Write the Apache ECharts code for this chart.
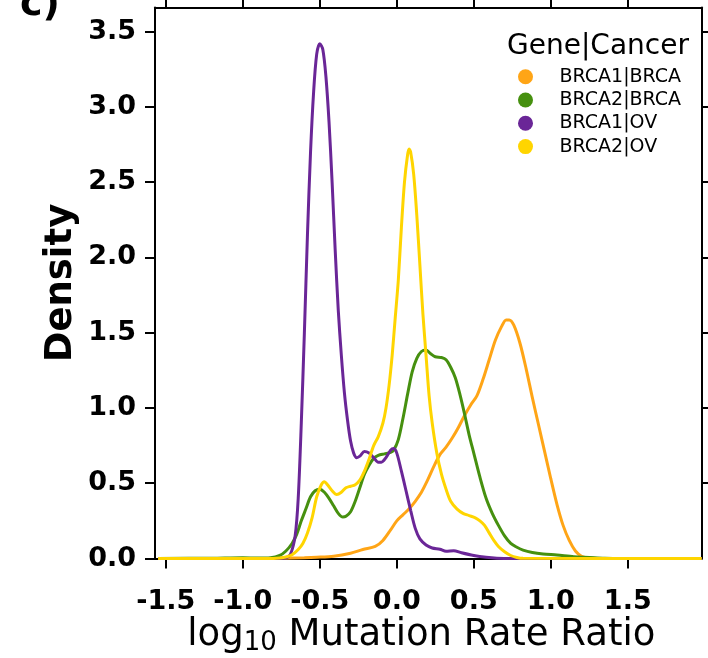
<!DOCTYPE html>
<html><head><meta charset="utf-8">
<script src="https://cdn.jsdelivr.net/npm/echarts@6/dist/echarts.min.js"></script>
<style>html,body{margin:0;padding:0;background:#fff}#c{width:708px;height:658px}</style>
</head><body><div id="c"></div>
<script>
// ---- data ----
const seriesNames = ['BRCA1|BRCA', 'BRCA2|BRCA', 'BRCA1|OV', 'BRCA2|OV'];
const seriesColors = ['#FFA516', '#46900F', '#6A2697', '#FFD500'];

const brca1BrcaX = [-1.55,-0.85,-0.75,-0.6,-0.52,-0.41,-0.30,-0.22,-0.14,-0.09,-0.04,0.00,0.04,0.08,0.12,0.16,0.20,0.24,0.28,0.32,0.36,0.40,0.44,0.48,0.52,0.56,0.60,0.64,0.68,0.71,0.73,0.76,0.80,0.84,0.88,0.92,0.96,1.00,1.04,1.08,1.12,1.16,1.20,1.25,1.35,1.98];
const brca1BrcaY = [0,0,0.002,0.005,0.008,0.015,0.035,0.06,0.08,0.12,0.19,0.25,0.29,0.33,0.38,0.44,0.52,0.61,0.69,0.74,0.80,0.87,0.95,1.02,1.08,1.19,1.32,1.45,1.54,1.585,1.585,1.55,1.43,1.26,1.07,0.89,0.71,0.53,0.36,0.22,0.12,0.05,0.015,0.004,0,0];

const brca2BrcaX = [-1.55,-1.2,-1.0,-0.9,-0.82,-0.76,-0.72,-0.68,-0.65,-0.62,-0.59,-0.56,-0.53,-0.50,-0.47,-0.44,-0.41,-0.38,-0.35,-0.33,-0.30,-0.27,-0.24,-0.21,-0.18,-0.15,-0.12,-0.08,-0.04,-0.02,0.01,0.04,0.07,0.10,0.13,0.16,0.19,0.22,0.25,0.29,0.32,0.35,0.38,0.41,0.44,0.47,0.50,0.54,0.58,0.62,0.66,0.70,0.74,0.78,0.82,0.88,0.95,1.04,1.15,1.25,1.35,1.45,1.98];
const brca2BrcaY = [0,0.002,0.005,0.003,0.005,0.02,0.05,0.10,0.16,0.25,0.33,0.41,0.45,0.46,0.44,0.40,0.35,0.30,0.275,0.28,0.31,0.38,0.47,0.56,0.62,0.665,0.685,0.695,0.705,0.72,0.79,0.93,1.09,1.24,1.33,1.375,1.385,1.36,1.34,1.335,1.32,1.27,1.20,1.09,0.96,0.82,0.70,0.54,0.40,0.30,0.22,0.15,0.10,0.075,0.056,0.040,0.030,0.023,0.012,0.007,0.002,0,0];

const brca1OvX = [-1.55,-1.0,-0.80,-0.72,-0.69,-0.66,-0.64,-0.62,-0.60,-0.58,-0.56,-0.54,-0.52,-0.50,-0.48,-0.46,-0.44,-0.42,-0.40,-0.38,-0.36,-0.34,-0.32,-0.30,-0.28,-0.26,-0.24,-0.21,-0.18,-0.15,-0.12,-0.10,-0.07,-0.04,-0.02,0.00,0.03,0.06,0.09,0.12,0.15,0.19,0.23,0.28,0.32,0.37,0.42,0.50,0.58,0.65,0.75,1.98];
const brca1OvY = [0,0,0,0.005,0.03,0.15,0.40,0.90,1.50,2.15,2.70,3.10,3.35,3.42,3.38,3.20,2.90,2.50,2.05,1.65,1.35,1.10,0.92,0.78,0.70,0.67,0.68,0.71,0.70,0.67,0.64,0.64,0.67,0.72,0.73,0.70,0.58,0.45,0.32,0.20,0.13,0.09,0.07,0.062,0.048,0.052,0.038,0.02,0.008,0.002,0,0];

const brca2OvX = [-1.55,-0.8,-0.76,-0.72,-0.68,-0.64,-0.61,-0.58,-0.55,-0.52,-0.49,-0.47,-0.45,-0.42,-0.39,-0.36,-0.33,-0.30,-0.27,-0.24,-0.21,-0.18,-0.15,-0.12,-0.09,-0.07,-0.05,-0.03,-0.01,0.01,0.03,0.05,0.07,0.08,0.09,0.11,0.13,0.15,0.17,0.19,0.21,0.23,0.26,0.29,0.32,0.35,0.39,0.43,0.47,0.51,0.54,0.57,0.60,0.63,0.66,0.70,0.74,0.78,0.82,1.98];
const brca2OvY = [0,0,0.003,0.01,0.025,0.06,0.10,0.17,0.27,0.41,0.49,0.51,0.49,0.45,0.425,0.44,0.47,0.48,0.49,0.52,0.58,0.66,0.75,0.81,0.90,1.00,1.15,1.35,1.60,1.85,2.20,2.50,2.68,2.72,2.70,2.55,2.28,1.95,1.62,1.35,1.08,0.90,0.70,0.56,0.46,0.38,0.33,0.30,0.285,0.27,0.25,0.22,0.17,0.12,0.08,0.045,0.02,0.007,0.001,0];

const xTickValues = [-1.5, -1.0, -0.5, 0.0, 0.5, 1.0, 1.5];
const yTickValues = [0.0, 0.5, 1.0, 1.5, 2.0, 2.5, 3.0, 3.5];
const xRange = [-1.57, 1.98];
const yRange = [0, 3.66];

// ---- build ----
const zip = (xs, ys) => xs.map((x, i) => [x, ys[i]]);
const curves = [zip(brca1BrcaX, brca1BrcaY), zip(brca2BrcaX, brca2BrcaY), zip(brca1OvX, brca1OvY), zip(brca2OvX, brca2OvY)];

const FONT = 'DejaVu Sans';
const tickStyle = { show: true, inside: false, length: 10, lineStyle: { color: '#000', width: 2 } };
const lineStyleAxis = { show: true, onZero: false, lineStyle: { color: '#000', width: 2 } };
const fmt = v => v.toFixed(1);

const chart = echarts.init(document.getElementById('c'), null, { renderer: 'canvas' });
chart.setOption({
  backgroundColor: '#fff',
  animation: false,
  grid: { left: 155, right: 6.3, top: 7.5, bottom: 99.5, containLabel: false, outerBoundsMode: 'none' },
  legend: {
    left: 518, top: 66.7, orient: 'vertical', padding: 0,
    icon: 'circle', itemWidth: 58, itemHeight: 15, itemGap: 3.3,
    data: seriesNames,
    textStyle: { fontFamily: FONT, fontSize: 19, color: '#000', lineHeight: 20 }
  },
  graphic: [
    { type: 'text', left: 507, top: 33, style: { text: 'Gene|Cancer', font: 'normal 28px "DejaVu Sans"', fill: '#000' } },
    { type: 'text', x: 20, y: 5, style: { text: 'c)', font: 'bold 38px "DejaVu Sans"', fill: '#000', verticalAlign: 'middle' } }
  ],
  xAxis: [
    {
      type: 'value', min: xRange[0], max: xRange[1], position: 'bottom',
      axisLine: lineStyleAxis,
      axisTick: Object.assign({ customValues: xTickValues }, tickStyle),
      axisLabel: { customValues: xTickValues, formatter: fmt, margin: 30, fontFamily: FONT, fontWeight: 'bold', fontSize: 27, color: '#000' },
      splitLine: { show: false },
      name: '{a|log}{s|10}{a| Mutation Rate Ratio}', nameLocation: 'middle', nameGap: 55, nameMoveOverlap: false,
      nameTextStyle: {
        padding: [0, 14, 0, 0],
        rich: {
          a: { fontFamily: FONT, fontSize: 37, color: '#000', lineHeight: 44 },
          s: { fontFamily: FONT, fontSize: 26, color: '#000', lineHeight: 44, padding: [16, 0, 0, 0] }
        }
      }
    },
    {
      type: 'value', min: xRange[0], max: xRange[1], position: 'top',
      axisLine: lineStyleAxis,
      axisTick: Object.assign({ customValues: xTickValues }, tickStyle),
      axisLabel: { show: false }, splitLine: { show: false }
    }
  ],
  yAxis: [
    {
      type: 'value', min: yRange[0], max: yRange[1], position: 'left',
      axisLine: lineStyleAxis,
      axisTick: Object.assign({ customValues: yTickValues }, tickStyle),
      axisLabel: { customValues: yTickValues, formatter: fmt, margin: 19, fontFamily: FONT, fontWeight: 'bold', fontSize: 27, color: '#000' },
      splitLine: { show: false },
      name: 'Density', nameLocation: 'middle', nameGap: 75, nameMoveOverlap: false,
      nameTextStyle: { fontFamily: FONT, fontWeight: 'bold', fontSize: 37, color: '#000' }
    },
    {
      type: 'value', min: yRange[0], max: yRange[1], position: 'right',
      axisLine: lineStyleAxis,
      axisTick: Object.assign({ customValues: yTickValues.slice(1) }, tickStyle),
      axisLabel: { show: false }, splitLine: { show: false }
    }
  ],
  series: curves.map((d, i) => ({
    name: seriesNames[i], type: 'line', data: d, xAxisIndex: 0, yAxisIndex: 0,
    showSymbol: false, smooth: 0.3,
    itemStyle: { color: seriesColors[i] },
    lineStyle: { color: seriesColors[i], width: 3 },
    z: 2
  }))
});
</script></body></html>
